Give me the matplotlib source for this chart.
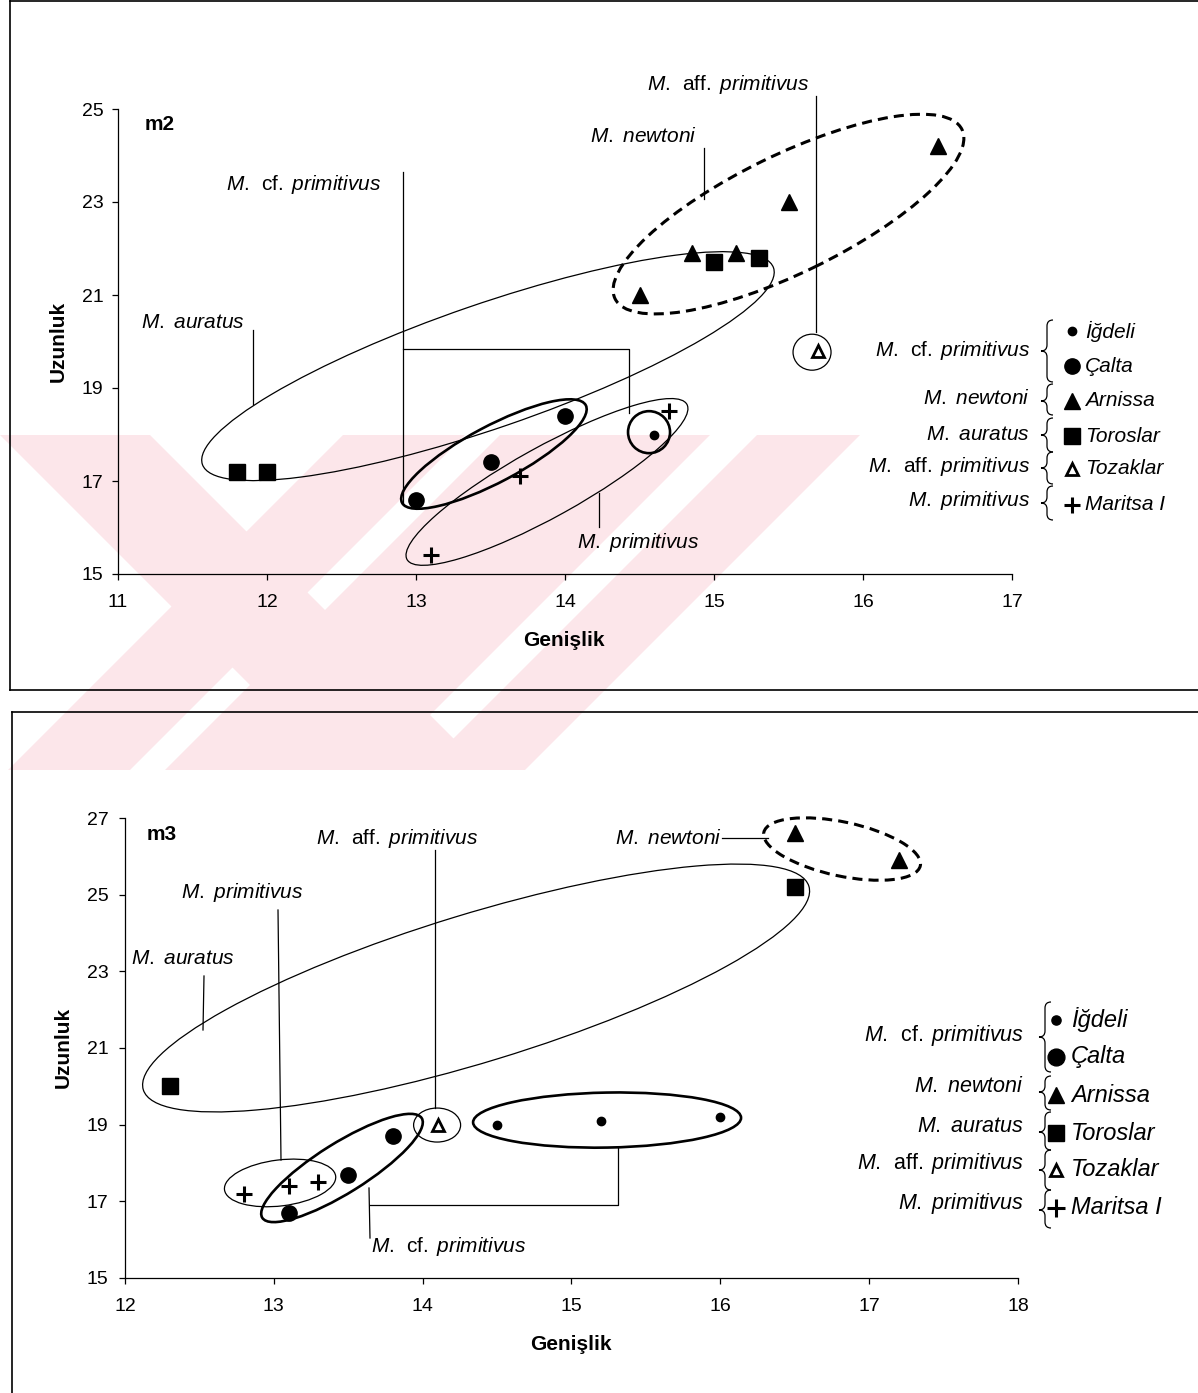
import matplotlib
matplotlib.use("Agg")
import matplotlib.pyplot as plt
from matplotlib.patches import Ellipse, PathPatch, Polygon, Rectangle
from matplotlib.path import Path
from matplotlib.lines import Line2D
from matplotlib.transforms import Affine2D, ScaledTranslation

plt.rcParams['font.family'] = ['Liberation Sans', 'DejaVu Sans']
plt.rcParams['mathtext.fontset'] = 'custom'
plt.rcParams['mathtext.rm'] = 'Liberation Sans'
plt.rcParams['mathtext.it'] = 'Liberation Sans:italic'
plt.rcParams['mathtext.bf'] = 'Liberation Sans:bold'

W, H, DPI = 1198, 1393, 100

# m2 (Uzunluk vs Genişlik)
m2_igdeli_x = [14.6]
m2_igdeli_y = [18.0]
m2_calta_x = [13.0, 13.5, 14.0]
m2_calta_y = [16.6, 17.4, 18.4]
m2_arnissa_x = [14.5, 14.85, 15.15, 15.5, 16.5]
m2_arnissa_y = [21.0, 21.9, 21.9, 23.0, 24.2]
m2_toroslar_x = [11.8, 12.0, 15.0, 15.3]
m2_toroslar_y = [17.2, 17.2, 21.7, 21.8]
m2_tozaklar_x = [15.7]
m2_tozaklar_y = [19.8]
m2_maritsa_x = [13.1, 13.7, 14.7]
m2_maritsa_y = [15.4, 17.1, 18.5]

# m3
m3_igdeli_x = [14.5, 15.2, 16.0]
m3_igdeli_y = [19.0, 19.1, 19.2]
m3_calta_x = [13.1, 13.5, 13.8]
m3_calta_y = [16.7, 17.7, 18.7]
m3_arnissa_x = [16.5, 17.2]
m3_arnissa_y = [26.6, 25.9]
m3_toroslar_x = [12.3, 16.5]
m3_toroslar_y = [20.0, 25.2]
m3_tozaklar_x = [14.1]
m3_tozaklar_y = [19.0]
m3_maritsa_x = [12.8, 13.1, 13.3]
m3_maritsa_y = [17.2, 17.4, 17.5]

species = [r"$\mathit{M.}\ \,\mathrm{cf.}\;\mathit{primitivus}$",
           r"$\mathit{M.\ newtoni}$",
           r"$\mathit{M.\ auratus}$",
           r"$\mathit{M.}\ \,\mathrm{aff.}\;\mathit{primitivus}$",
           r"$\mathit{M.\ primitivus}$"]
localities = ["İğdeli", "Çalta", "Arnissa", "Toroslar", "Tozaklar", "Maritsa I"]

fig = plt.figure(figsize=(W / DPI, H / DPI), dpi=DPI)
pix = Affine2D().scale(1.0 / W, -1.0 / H).translate(0, 1) + fig.transFigure

# faint background watermark (diagonal stripes)
band = Rectangle((0, 435), 870, 335, transform=pix, fill=False, lw=0)
fig.add_artist(band)
for a, b, d in [(0, 150, 1), (343, 465, -1), (500, 710, -1), (757, 860, -1)]:
    poly = Polygon([(a, 435), (b, 435), (b + d * 335, 770), (a + d * 335, 770)],
                   closed=True, transform=pix, fc='#fce6ea', ec='none', zorder=-10)
    fig.add_artist(poly)
    poly.set_clip_path(band)

sty = {
    'igdeli': dict(marker='o', ms=6, color='black', ls='none'),
    'calta': dict(marker='o', ms=11, color='black', ls='none'),
    'arnissa': dict(marker='^', ms=11, color='black', ls='none'),
    'toroslar': dict(marker='s', ms=11, color='black', ls='none'),
    'tozaklar': dict(marker='^', ms=8, mfc='white', mec='black', mew=2, ls='none'),
}


def plus(ax, xs, ys, size=12):
    ax.plot(xs, ys, marker='+', ms=size, mew=2.2, color='black', ls='none', clip_on=False, zorder=5)


def ring(ax, x, y, w, h, ang, lw=0.9, ls='-'):
    tr = fig.dpi_scale_trans + ScaledTranslation(x, y, ax.transData)
    e = Ellipse((0, 0), w / DPI, h / DPI, angle=ang, transform=tr, fill=False,
                lw=lw, ls=ls, ec='black', clip_on=False, zorder=3)
    ax.add_patch(e)


def seg(pts, lw=0.9):
    xs = [p[0] for p in pts]
    ys = [p[1] for p in pts]
    fig.add_artist(Line2D(xs, ys, transform=pix, color='black', lw=lw, zorder=4))


def label(x, y, s, ha='center', size=15, **kw):
    fig.text(x, y, s, transform=pix, ha=ha, va='center', fontsize=size, **kw)


def brace(x, top, tip, bot, r=6):
    verts = [(x + r, top), (x, top), (x, top + r), (x, tip - r), (x, tip), (x - r, tip),
             (x, tip), (x, tip + r), (x, bot - r), (x, bot), (x + r, bot)]
    codes = [Path.MOVETO, Path.CURVE3, Path.CURVE3, Path.LINETO, Path.CURVE3, Path.CURVE3,
             Path.CURVE3, Path.CURVE3, Path.LINETO, Path.CURVE3, Path.CURVE3]
    fig.add_artist(PathPatch(Path(verts, codes), transform=pix, fill=False, lw=0.9, ec='black'))


def legend(sym_x, txt_x, rows, lab_x, lab_rows, braces, brace_x, size, lab_size, msc=1.0):
    keys = ['igdeli', 'calta', 'arnissa', 'toroslar', 'tozaklar', 'maritsa']
    for k, loc, y in zip(keys, localities, rows):
        if k == 'maritsa':
            fig.add_artist(Line2D([sym_x], [y], transform=pix, marker='+', ms=12 * msc, mew=2.2, color='black'))
        else:
            st = dict(sty[k])
            st['ms'] = st['ms'] * msc
            fig.add_artist(Line2D([sym_x], [y], transform=pix, **st))
        fig.text(txt_x, y, loc, transform=pix, ha='left', va='center', fontsize=size, style='italic')
    for s, y in zip(species, lab_rows):
        label(lab_x, y, s, ha='right', size=lab_size)
    for top, tip, bot in braces:
        brace(brace_x, top, tip, bot)


def setup(ax, xlim, ylim, yt, pad_y, pad_x):
    ax.set_facecolor('none')
    ax.set_xlim(*xlim)
    ax.set_ylim(*ylim)
    ax.set_xticks(range(xlim[0], xlim[1] + 1))
    ax.set_yticks(yt)
    for sp in ['top', 'right']:
        ax.spines[sp].set_visible(False)
    for sp in ['left', 'bottom']:
        ax.spines[sp].set_linewidth(0.9)
    ax.tick_params(axis='y', direction='out', length=4.5, width=0.9, labelsize=14, pad=pad_y)
    ax.tick_params(axis='x', direction='out', length=4.5, width=0.9, labelsize=14, pad=pad_x)


# ---------------- m2 ----------------
ax1 = fig.add_axes([118 / W, 1 - 574 / H, 894 / W, 465 / H])
setup(ax1, (11, 17), (15, 25), [15, 17, 19, 21, 23, 25], 6, 10)
ax1.plot(m2_igdeli_x, m2_igdeli_y, **sty['igdeli'], zorder=5)
ax1.plot(m2_calta_x, m2_calta_y, **sty['calta'], zorder=5)
ax1.plot(m2_arnissa_x, m2_arnissa_y, **sty['arnissa'], zorder=5)
ax1.plot(m2_toroslar_x, m2_toroslar_y, **sty['toroslar'], zorder=5)
ax1.plot(m2_tozaklar_x, m2_tozaklar_y, **sty['tozaklar'], zorder=5)
plus(ax1, m2_maritsa_x, m2_maritsa_y)

ring(ax1, 13.483, 19.47, 604, 124, 19)
ring(ax1, 15.50, 22.74, 386, 118, 26, lw=2.2, ls=(0, (3.3, 2.0)))
ring(ax1, 13.523, 17.58, 208, 56, 28, lw=1.9)
ring(ax1, 13.879, 16.98, 320, 70, 29)
ring(ax1, 14.564, 18.05, 42, 42, 0, lw=1.9)
ring(ax1, 15.658, 19.77, 38, 36, 0)

seg([(816, 96), (816, 332)])
seg([(704, 148), (704, 199)])
seg([(403, 172), (403, 505)])
seg([(403, 349), (629, 349), (629, 413)])
seg([(253, 330), (253, 404)])
seg([(599, 493), (599, 527)])

label(728, 84, species[3])
label(643, 136, species[1])
label(304, 184, species[0])
label(193, 322, species[2])
label(638, 543, species[4])
label(145, 125, "m2", ha='left', size=15, weight='bold')
label(564, 641, "Genişlik", size=15, weight='bold')
label(58, 341, "Uzunluk", size=15, weight='bold', rotation=90)

legend(1072, 1085, [331, 366, 401, 436, 469, 505], 1030, [351, 399, 435, 467, 500],
       [(320, 351, 382), (384, 401, 415), (418, 435, 452), (452, 468, 484), (486, 503, 520)],
       1047, 15, 15)

# ---------------- m3 ----------------
ax2 = fig.add_axes([125 / W, 1 - 1278 / H, 893 / W, 460 / H])
setup(ax2, (12, 18), (15, 27), [15, 17, 19, 21, 23, 25, 27], 7.5, 10)
ax2.plot(m3_igdeli_x, m3_igdeli_y, **sty['igdeli'], zorder=5)
ax2.plot(m3_calta_x, m3_calta_y, **sty['calta'], zorder=5)
ax2.plot(m3_arnissa_x, m3_arnissa_y, **sty['arnissa'], zorder=5)
ax2.plot(m3_toroslar_x, m3_toroslar_y, **sty['toroslar'], zorder=5)
ax2.plot(m3_tozaklar_x, m3_tozaklar_y, **sty['tozaklar'], zorder=5)
plus(ax2, m3_maritsa_x, m3_maritsa_y)

ring(ax2, 14.359, 22.565, 696, 148, 17)
ring(ax2, 16.818, 26.19, 160, 54, -12, lw=2.2, ls=(0, (3.3, 2.0)))
ring(ax2, 13.458, 17.87, 188, 50, 32, lw=1.9)
ring(ax2, 13.042, 17.48, 112, 46, 7)
ring(ax2, 14.097, 18.99, 47, 34, 0)
ring(ax2, 15.239, 19.12, 268, 55, 1, lw=1.9)

seg([(435, 850), (435, 1108)])
seg([(278, 910), (281, 1160)])
seg([(204, 976), (203, 1030)])
seg([(369, 1188), (370, 1238)])
seg([(370, 1205), (618, 1205), (618, 1148)])
seg([(722, 838), (768, 838)])

label(397, 838, species[3])
label(242, 893, species[4])
label(183, 959, species[2])
label(449, 1247, species[0])
label(722, 838, species[1], ha='right')
label(147, 835, "m3", ha='left', size=15, weight='bold')
label(571, 1344, "Genişlik", size=15, weight='bold')
label(63, 1047, "Uzunluk", size=15, weight='bold', rotation=90)

legend(1056, 1071, [1020, 1057, 1095, 1133, 1170, 1208], 1024, [1035, 1087, 1127, 1163, 1203],
       [(1002, 1037, 1072), (1076, 1092, 1110), (1112, 1132, 1150), (1150, 1170, 1190), (1190, 1210, 1228)],
       1045, 17, 15.5, msc=1.1)

# panel frames
seg([(10, 1), (1198, 1)], lw=1.2)
seg([(10, 1), (10, 690)], lw=1.2)
seg([(10, 690), (1198, 690)], lw=1.2)
seg([(12, 712), (1198, 712)], lw=1.2)
seg([(12, 712), (12, 1393)], lw=1.2)

fig.savefig("out.png", dpi=DPI)
